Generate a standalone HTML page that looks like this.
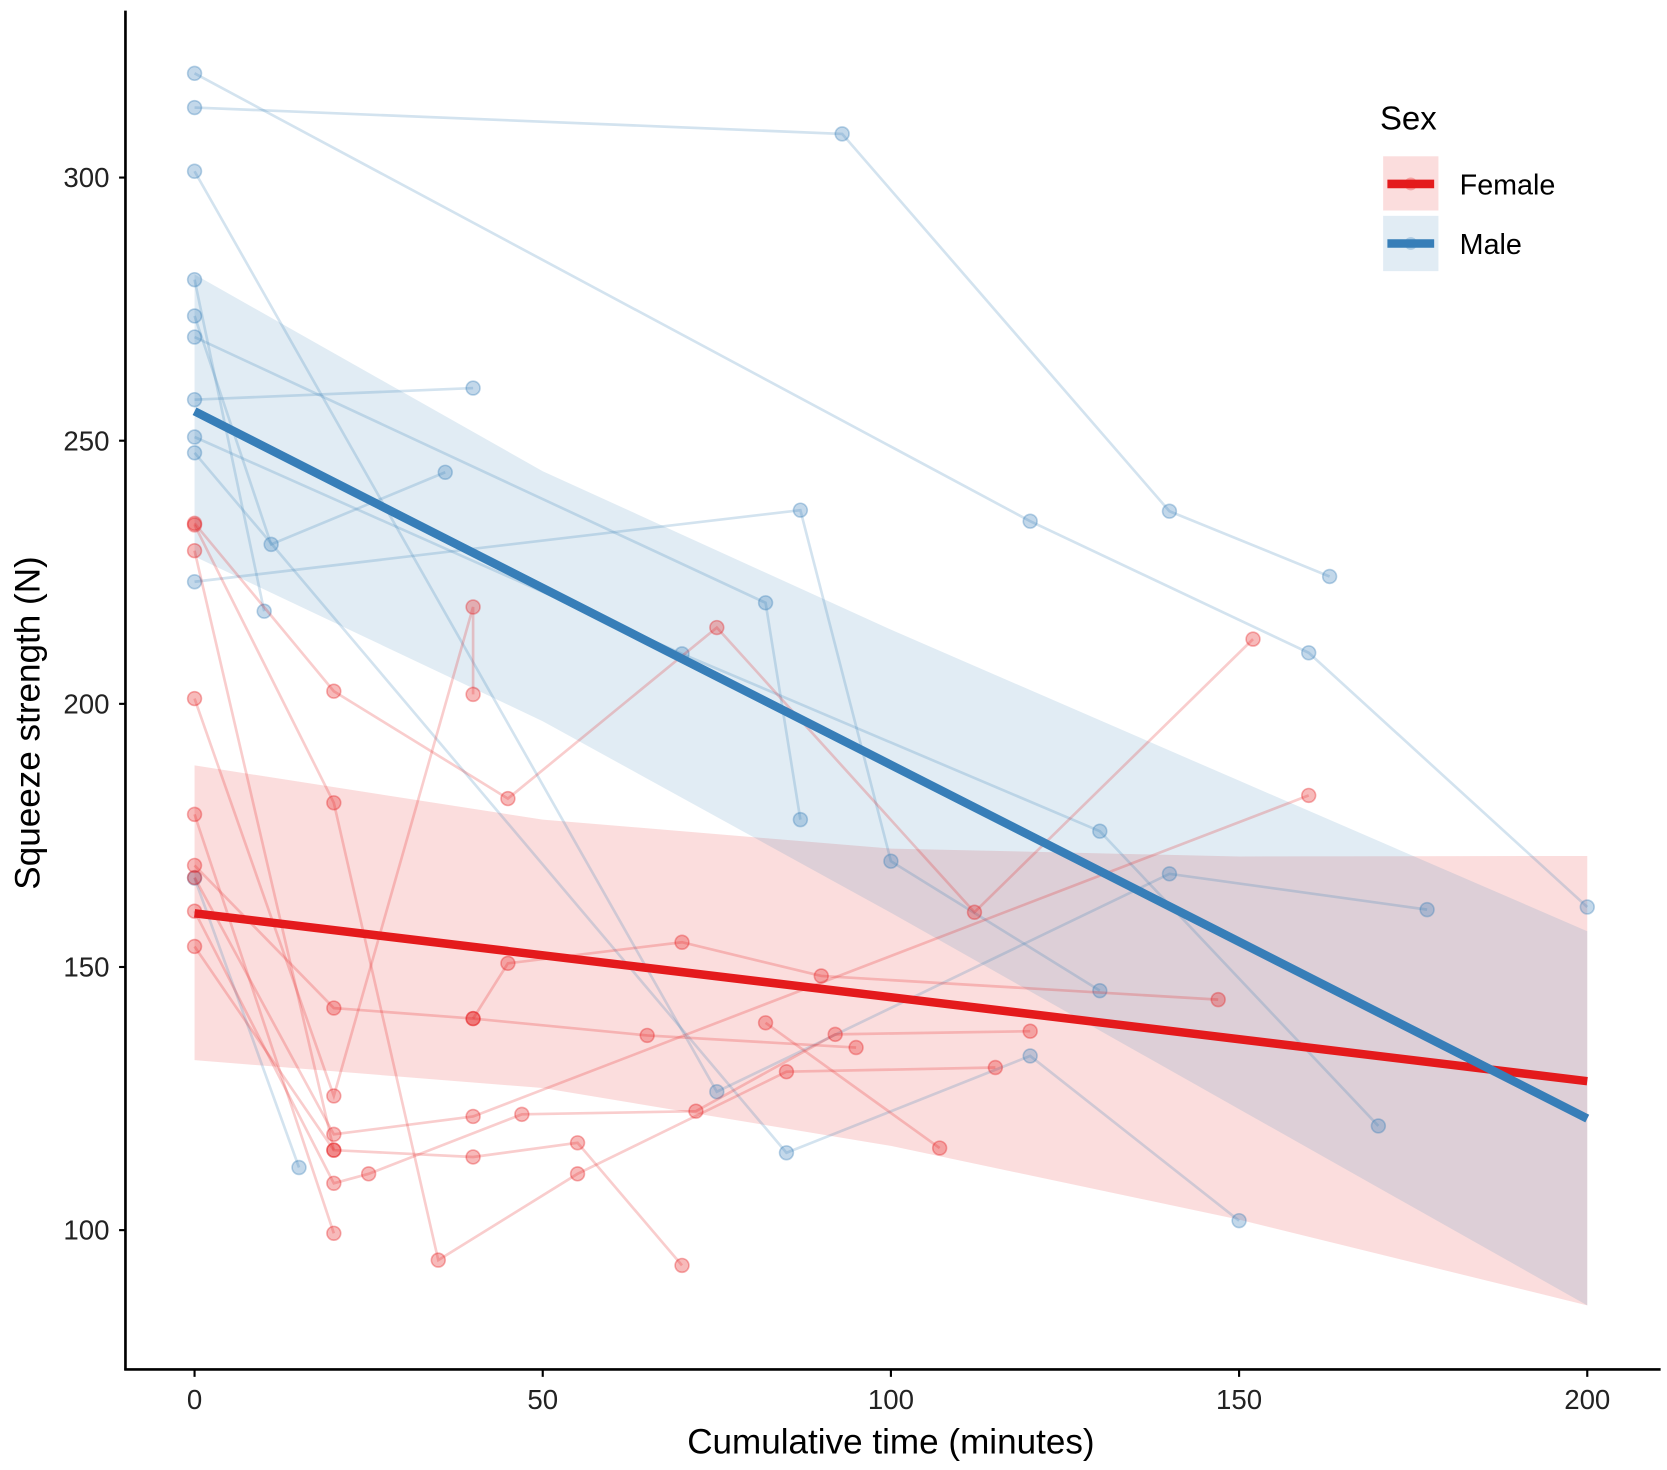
<!DOCTYPE html>
<html><head><meta charset="utf-8"><style>
html,body{margin:0;padding:0;background:#fff;}
svg{display:block;}
text{font-family:"Liberation Sans",Arial,sans-serif;}
</style></head><body>
<svg id="chart" width="1667" height="1470" viewBox="0 0 1568 1382.6" preserveAspectRatio="none" xmlns="http://www.w3.org/2000/svg">
<g id="bands"></g>
<g id="subjects"></g>
<g id="fits"></g>
<g id="axes"></g>
<g>
  <text x="1298" y="122" font-size="31" fill="#000">Sex</text>
  <g>
    <rect x="1301" y="147" width="52" height="51" fill="#e41a1c" fill-opacity="0.15"/>
    <line x1="1305" y1="173" x2="1349" y2="173" stroke="#e41a1c" stroke-width="8"/>
    <circle cx="1327" cy="173" r="6" fill="#e41a1c" fill-opacity="0.3"/>
    <text x="1373" y="183" font-size="27" fill="#000">Female</text>
  </g>
  <g>
    <rect x="1301" y="203" width="52" height="52" fill="#377eb8" fill-opacity="0.15"/>
    <line x1="1305" y1="229" x2="1349" y2="229" stroke="#377eb8" stroke-width="8"/>
    <circle cx="1327" cy="229" r="6" fill="#377eb8" fill-opacity="0.3"/>
    <text x="1373" y="239" font-size="27" fill="#000">Male</text>
  </g>
</g>
</svg>
<script>
const xTicks = [0, 50, 100, 150, 200];
const yTicks = [100, 150, 200, 250, 300];
const seriesNames = ["Female", "Male"];
const colors = {Female: "#e41a1c", Male: "#377eb8"};
// fitted line endpoints [t, value]
const femaleFit = [[0, 160.2], [200, 128.3]];
const maleFit = [[0, 255.6], [200, 121.2]];
// confidence band edges at bandTimes
const bandTimes = [0, 50, 100, 150, 200];
const femaleUpper = [188.3, 178, 172.5, 171, 171.1];
const femaleLower = [132.3, 127, 116, 102, 85.7];
const maleUpper = [281.6, 244.2, 214.1, 185.4, 156.8];
const maleLower = [228, 196.7, 160.3, 123, 85.7];
// female subjects: [time, strength]
const femaleSubjects = [
 [[0,234.3],[20,202.4],[45,182],[75,214.5],[112,160.4],[152,212.3]],
 [[0,234],[20,181.2],[35,94.3],[55,110.7],[85,130.1],[115,130.9]],
 [[0,229.1],[20,115.2],[40,113.9],[55,116.6],[70,93.3]],
 [[0,201],[20,125.5],[40,218.4],[40,201.8]],
 [[0,179],[20,99.4]],
 [[0,169.3],[20,142.2],[40,140.2],[65,137],[95,134.7]],
 [[0,167],[20,118.2],[40,121.6],[160,182.6]],
 [[0,160.6],[20,108.9],[25,110.7],[47,122],[72,122.6],[92,137.2],[120,137.8]],
 [[0,153.9],[20,115.2]],
 [[40,140.2],[45,150.7],[70,154.7],[90,148.3],[147,143.8]],
 [[82,139.4],[107,115.6]]
];
const maleSubjects = [
 [[0,319.8],[120,234.7],[160,209.7],[200,161.4]],
 [[0,313.3],[93,308.3],[140,236.6],[163,224.2]],
 [[0,301.2],[75,126.3],[140,167.7],[177,160.9]],
 [[0,280.6],[10,217.6]],
 [[0,273.7],[11,230.3],[36,244]],
 [[0,269.7],[82,219.2],[87,178]],
 [[0,257.8],[40,260]],
 [[0,250.7],[70,209.5],[130,175.8],[170,119.8]],
 [[0,247.7],[85,114.7],[120,133.1],[150,101.8]],
 [[0,223.2],[87,236.8],[100,170.1],[130,145.5]],
 [[0,166.9],[15,111.9]]
];

const NS = "http://www.w3.org/2000/svg";
const X0 = 183, X1 = 1493, Y300 = 167, YPER = 4.95;
function xs(t){ return X0 + t * (X1 - X0) / 200; }
function ys(v){ return Y300 + (300 - v) * YPER; }
function mk(tag, attrs, parent){
  const e = document.createElementNS(NS, tag);
  for (const k in attrs) e.setAttribute(k, attrs[k]);
  parent.appendChild(e); return e;
}
const bands = document.getElementById('bands');
const subj = document.getElementById('subjects');
const fits = document.getElementById('fits');
const axes = document.getElementById('axes');

function drawBand(upper, lower, name){
  const up = bandTimes.map((t, i) => xs(t) + "," + ys(upper[i]));
  const lo = bandTimes.map((t, i) => xs(t) + "," + ys(lower[i])).reverse();
  const el = mk('polygon', {points: up.concat(lo).join(' '), fill: colors[name], 'fill-opacity': 0.15}, bands);
  
  
}
drawBand(femaleUpper, femaleLower, "Female");
drawBand(maleUpper, maleLower, "Male");

function drawSubjects(list, name){
  list.forEach((s, i) => {
    const g = mk('g', {}, subj);
    
    
    const pl = mk('polyline', {points: s.map(p => xs(p[0]) + "," + ys(p[1])).join(' '), fill: 'none', stroke: colors[name], 'stroke-opacity': 0.22, 'stroke-width': 2.5}, g);
    
    
    s.forEach(p => {
      const c = mk('circle', {cx: xs(p[0]), cy: ys(p[1]), r: 6.5, fill: colors[name], 'fill-opacity': 0.3, stroke: colors[name], 'stroke-opacity': 0.35, 'stroke-width': 1.5}, g);
      
      
    });
  });
}
drawSubjects(maleSubjects, "Male");
drawSubjects(femaleSubjects, "Female");

function drawFit(f, name){
  const l = mk('line', {x1: xs(f[0][0]), y1: ys(f[0][1]), x2: xs(f[1][0]), y2: ys(f[1][1]), stroke: colors[name], 'stroke-width': 8}, fits);
  
  
}
drawFit(femaleFit, "Female");
drawFit(maleFit, "Male");

// axes
const ya = mk('line', {x1: 118, y1: 10, x2: 118, y2: 1289, stroke: '#000', 'stroke-width': 2.5}, axes);


const xa = mk('line', {x1: 117, y1: 1288, x2: 1562, y2: 1288, stroke: '#000', 'stroke-width': 2.5}, axes);


yTicks.forEach(v => {
  const t = mk('line', {x1: 112, y1: ys(v), x2: 118, y2: ys(v), stroke: '#000', 'stroke-width': 2}, axes);
  
  
  const tx = mk('text', {x: 103, y: ys(v) + 9, 'font-size': 26, 'text-anchor': 'end', fill: '#222'}, axes);
  tx.textContent = v;
  
  
});
xTicks.forEach(v => {
  const t = mk('line', {x1: xs(v), y1: 1288, x2: xs(v), y2: 1295, stroke: '#000', 'stroke-width': 2}, axes);
  
  
  const tx = mk('text', {x: xs(v), y: 1325, 'font-size': 26, 'text-anchor': 'middle', fill: '#222'}, axes);
  tx.textContent = v;
  
  
});
const xt = mk('text', {x: 838, y: 1367, 'font-size': 33, 'text-anchor': 'middle', fill: '#000'}, axes);
xt.textContent = 'Cumulative time (minutes)';


const yt = mk('text', {x: 0, y: 0, 'font-size': 33, 'text-anchor': 'middle', fill: '#000', transform: 'translate(37,680) rotate(-90)'}, axes);
yt.textContent = 'Squeeze strength (N)';


</script>
</body></html>
